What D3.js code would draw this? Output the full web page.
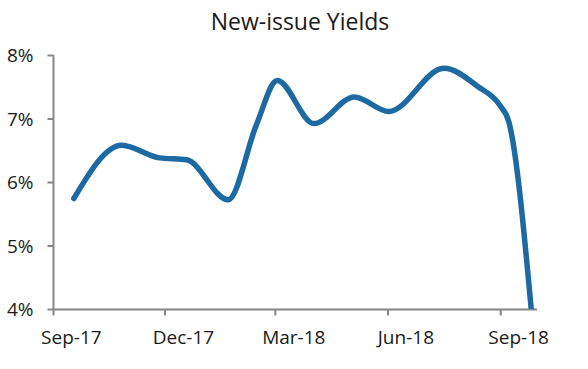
<!DOCTYPE html>
<html><head><meta charset="utf-8">
<script src="https://cdn.jsdelivr.net/npm/d3@7"></script>
<style>body{margin:0;background:#fff}svg{display:block}text{font-family:"Open Sans","Noto Sans",sans-serif;fill:#1a1a1a}</style>
</head><body><svg id="c" width="588" height="369"></svg>
<script>
const title = "New-issue Yields";
const dates = ["2017-09-18","2017-10-27","2017-11-27","2017-12-19","2018-01-22","2018-02-14","2018-03-03","2018-04-02","2018-05-05","2018-06-02","2018-07-17","2018-08-14","2018-09-01","2018-09-08","2018-09-27"];
const yields = [5.74,6.58,6.38,6.35,5.72,6.90,7.60,6.92,7.34,7.11,7.79,7.50,7.20,6.95,3.85];
const xTickDates = ["2017-09-01","2017-12-01","2018-03-01","2018-06-01","2018-09-01"];
const xTickLabels = ["Sep-17","Dec-17","Mar-18","Jun-18","Sep-18"];
const yTicks = [4,5,6,7,8];

const parse = d3.utcParse("%Y-%m-%d");
const svg = d3.select("#c");
const x = d3.scaleUtc().domain([parse("2017-09-01"), parse("2018-10-01")]).range([53, 537]);
const y = d3.scaleLinear().domain([4, 8]).range([309, 55]);

svg.append("text").attr("x", 300).attr("y", 30).attr("text-anchor", "middle")
  .style("font-size", "23px").text(title);

const gy = svg.append("g").attr("transform", "translate(53.5,0)")
  .call(d3.axisLeft(y).tickValues(yTicks).tickSize(6).tickPadding(14).tickFormat(d => d + "%"));
const gx = svg.append("g").attr("transform", "translate(0,309.5)")
  .call(d3.axisBottom(x).tickValues(xTickDates.map(parse)).tickSize(6).tickFormat(""));
[gy, gx].forEach(g => {
  g.select(".domain").attr("stroke", "#868686").attr("stroke-width", 2);
  g.selectAll(".tick line").attr("stroke", "#868686").attr("stroke-width", 2);
});
gy.select(".domain").attr("d", "M0,55V309");
gx.select(".domain").attr("d", "M53,0H537");
gy.selectAll(".tick text").style("font-size", "19px").attr("fill", "#1a1a1a").attr("dy", "0.36em");

// x labels centered in the month band
svg.append("g").selectAll("text").data(xTickDates).join("text")
  .attr("x", d => { const s = parse(d); const e = d3.utcMonth.offset(s, 1); return (x(s) + x(e)) / 2; })
  .attr("y", 344).attr("text-anchor", "middle").style("font-size", "19px")
  .text((d, i) => xTickLabels[i]);

svg.append("clipPath").attr("id", "clip").append("rect")
  .attr("x", 53).attr("y", 0).attr("width", 500).attr("height", 309);
const data = dates.map((d, i) => ({ date: parse(d), v: yields[i] }));
svg.append("path").datum(data).attr("clip-path", "url(#clip)")
  .attr("fill", "none").attr("stroke", "#1d6aa3").attr("stroke-width", 5.5)
  .attr("stroke-linecap", "round").attr("stroke-linejoin", "round")
  .attr("d", d3.line().x(d => x(d.date)).y(d => y(d.v)).curve(d3.curveMonotoneX));
</script></body></html>
